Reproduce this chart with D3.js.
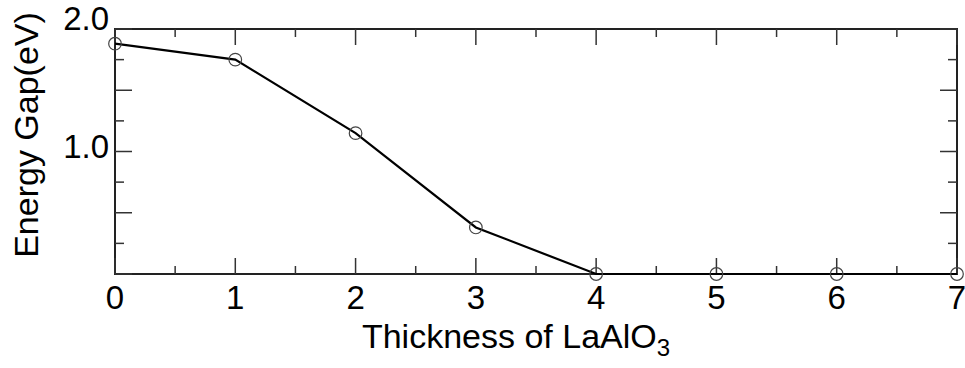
<!DOCTYPE html>
<html>
<head>
<meta charset="utf-8">
<script src="https://cdn.jsdelivr.net/npm/d3@7"></script>
<style>
  html, body { margin: 0; padding: 0; background: #fff; }
  svg { display: block; }
  text { font-family: Arial, "Liberation Sans", sans-serif; fill: #000; }
</style>
</head>
<body>
<svg id="chart" width="965" height="368"></svg>
<script>
// ---- data ----
const thickness = [0, 1, 2, 3, 4, 5, 6, 7];
const energyGap = [1.88, 1.75, 1.15, 0.38, 0, 0, 0, 0];
const xTickLabels = [0, 1, 2, 3, 4, 5, 6, 7];
const yTickLabels = [1.0, 2.0];

const svg = d3.select("#chart");
const margin = { left: 115, right: 8, top: 29, bottom: 94 };
const W = 965, H = 368;
const x = d3.scaleLinear().domain([0, 7]).range([margin.left, W - margin.right]);
const y = d3.scaleLinear().domain([0, 2]).range([H - margin.bottom, margin.top]);

const axisColor = "#222";
const x0 = x(0), x1 = x(7), y0 = y(0), y1 = y(2);

// frame
svg.append("rect")
  .attr("x", x0).attr("y", y1)
  .attr("width", x1 - x0).attr("height", y0 - y1)
  .attr("fill", "none").attr("stroke", axisColor).attr("stroke-width", 2);

// ticks
const majorX = d3.range(0, 8, 1), minorX = d3.range(0.5, 7, 1);
const majorY = d3.range(0, 2.01, 0.5), minorY = d3.range(0.25, 2, 0.5);
const tk = svg.append("g").attr("stroke", "#333").attr("stroke-width", 1.5);
function xt(vals, len) {
  vals.forEach(v => {
    tk.append("line").attr("x1", x(v)).attr("x2", x(v)).attr("y1", y0).attr("y2", y0 - len);
    tk.append("line").attr("x1", x(v)).attr("x2", x(v)).attr("y1", y1).attr("y2", y1 + len);
  });
}
function yt(vals, len) {
  vals.forEach(v => {
    tk.append("line").attr("y1", y(v)).attr("y2", y(v)).attr("x1", x0).attr("x2", x0 + len);
    tk.append("line").attr("y1", y(v)).attr("y2", y(v)).attr("x1", x1).attr("x2", x1 - len);
  });
}
xt(majorX, 16); xt(minorX, 8);
yt(majorY, 17); yt(minorY, 9);

// x tick labels
svg.append("g").selectAll("text").data(xTickLabels).join("text")
  .attr("x", d => x(d)).attr("y", y0 + 35)
  .attr("text-anchor", "middle").attr("font-size", 33)
  .text(d => d);

// y tick labels
svg.append("g").selectAll("text").data(yTickLabels).join("text")
  .attr("x", x0 - 6)
  .attr("y", d => d === 2 ? y(d) + 1 : y(d) + 6)
  .attr("text-anchor", "end").attr("font-size", 33)
  .text(d => d.toFixed(1));

// line
const line = d3.line().x((d, i) => x(thickness[i])).y(d => y(d));
svg.append("path").datum(energyGap)
  .attr("d", line).attr("fill", "none")
  .attr("stroke", "#000").attr("stroke-width", 2.2);

// markers
svg.append("g").selectAll("circle").data(energyGap).join("circle")
  .attr("cx", (d, i) => x(thickness[i])).attr("cy", d => y(d))
  .attr("r", 6.3).attr("fill", "none")
  .attr("stroke", "#444").attr("stroke-width", 1.2);

// axis titles
const xt2 = svg.append("text")
  .attr("x", 516).attr("y", 348)
  .attr("text-anchor", "middle").attr("font-size", 34);
xt2.append("tspan").text("Thickness of LaAlO");
xt2.append("tspan").attr("font-size", 24).attr("dy", 8).text("3");

svg.append("text")
  .attr("transform", "translate(38,135) rotate(-90)")
  .attr("text-anchor", "middle").attr("font-size", 34)
  .text("Energy Gap(eV)");
</script>
</body>
</html>
